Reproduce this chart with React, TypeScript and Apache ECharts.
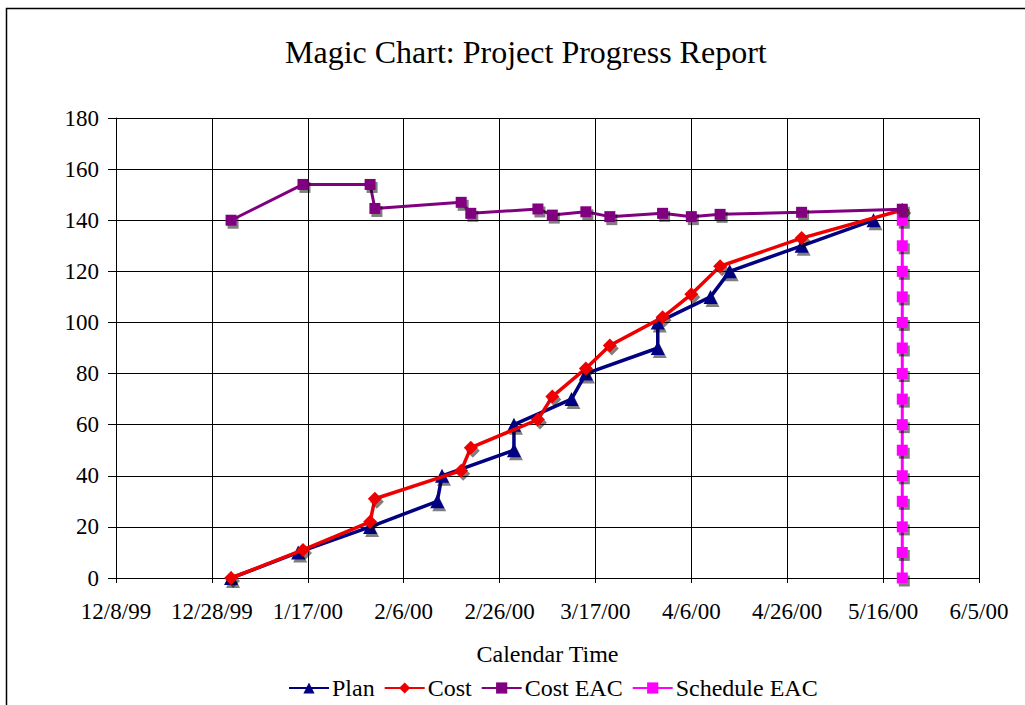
import React, { useEffect, useRef } from "react";
import * as echarts from "echarts";

const START = Date.UTC(1999, 11, 8);
const DAY = 86400000;

const planDates = ["2000-01-01", "2000-01-15", "2000-01-30", "2000-02-13", "2000-02-14", "2000-02-29", "2000-02-29", "2000-03-12", "2000-03-15", "2000-03-30", "2000-03-30", "2000-04-10", "2000-04-14", "2000-04-29", "2000-05-14"];
const planValues = [0, 10, 20, 30, 40, 50, 60, 70, 80, 90, 100, 110, 120, 130, 140];

const costDates = ["2000-01-01", "2000-01-16", "2000-01-30", "2000-01-31", "2000-02-18", "2000-02-20", "2000-03-05", "2000-03-08", "2000-03-15", "2000-03-20", "2000-03-31", "2000-04-06", "2000-04-12", "2000-04-29", "2000-05-20"];
const costValues = [0, 11, 22, 31, 42, 51, 62, 71, 82, 91, 102, 111, 122, 133, 144];
const costEacValues = [140, 154, 154, 144.6, 147, 142.7, 144.4, 142, 143.3, 141.4, 142.7, 141.4, 142.3, 143.1, 144.3];

const scheduleEacDate = "2000-05-20";
const scheduleEacValues = [0, 10, 20, 30, 40, 50, 60, 70, 80, 90, 100, 110, 120, 130, 140];

const xTickDays = [0, 20, 40, 60, 80, 100, 120, 140, 160, 180];

const FONT = "'Liberation Serif', 'Times New Roman', serif";

function dayOf(s: string): number {
  const [y, m, d] = s.split("-").map(Number);
  return Math.round((Date.UTC(y, m - 1, d) - START) / DAY);
}

function fmtDay(v: number): string {
  const dt = new Date(START + v * DAY);
  const yy = String(dt.getUTCFullYear() % 100).padStart(2, "0");
  return `${dt.getUTCMonth() + 1}/${dt.getUTCDate()}/${yy}`;
}

export default function App() {
  const ref = useRef<HTMLDivElement>(null);
  useEffect(() => {
    if (!ref.current) return;
    const chart = echarts.init(ref.current, undefined, { renderer: "svg" });
    const shadow = { shadowColor: "rgba(0,0,0,0.5)", shadowOffsetX: 2, shadowOffsetY: 3, shadowBlur: 0 };
    chart.setOption({
      animation: false,
      backgroundColor: "#fff",
      title: {
        text: "Magic Chart: Project Progress Report",
        left: 280,
        top: 31,
        textStyle: { fontFamily: FONT, fontSize: 32, fontWeight: "normal", color: "#000" },
      },
      graphic: [
        {
          type: "rect",
          shape: { x: 6.5, y: 8.5, width: 1040, height: 720 },
          style: { fill: "none", stroke: "#000", lineWidth: 1.5 },
          silent: true,
        },
      ],
      grid: { left: 116, right: 46, top: 118, bottom: 127, containLabel: false },
      xAxis: {
        type: "value",
        min: 0,
        max: 180,
        interval: 20,
        name: "Calendar Time",
        nameLocation: "middle",
        nameGap: 64,
        nameTextStyle: { fontFamily: FONT, fontSize: 24, color: "#000" },
        axisLine: { show: true, lineStyle: { color: "#000", width: 1 } },
        axisTick: { show: true, length: 5, lineStyle: { color: "#000" } },
        axisLabel: {
          fontFamily: FONT,
          fontSize: 23,
          color: "#000",
          margin: 22,
          formatter: (v: number) => (xTickDays.includes(v) ? fmtDay(v) : ""),
        },
        splitLine: { show: true, lineStyle: { color: "#000", width: 1 } },
      },
      yAxis: {
        type: "value",
        min: 0,
        max: 180,
        interval: 20,
        axisLine: { show: true, lineStyle: { color: "#000", width: 1 } },
        axisTick: { show: true, length: 8, lineStyle: { color: "#000" } },
        axisLabel: { fontFamily: FONT, fontSize: 23, color: "#000", margin: 17 },
        splitLine: { show: true, lineStyle: { color: "#000", width: 1 } },
      },
      legend: {
        bottom: 0,
        left: 283,
        itemWidth: 40,
        itemHeight: 14,
        itemGap: 9,
        textStyle: { fontFamily: FONT, fontSize: 24, color: "#000", padding: [0, 0, 0, -2] },
        data: ["Plan", "Cost", "Cost EAC", "Schedule EAC"],
      },
      series: [
        {
          name: "Plan",
          type: "line",
          data: planDates.map((d, i) => [dayOf(d), planValues[i]]),
          symbol: "triangle",
          symbolSize: 14,
          lineStyle: { color: "#000080", width: 3.5 },
          itemStyle: { color: "#000080", ...shadow },
          z: 3,
        },
        {
          name: "Cost",
          type: "line",
          data: costDates.map((d, i) => [dayOf(d), costValues[i]]),
          symbol: "diamond",
          symbolSize: 14,
          lineStyle: { color: "#ee0000", width: 3.5 },
          itemStyle: { color: "#ee0000", ...shadow },
          z: 4,
        },
        {
          name: "Cost EAC",
          type: "line",
          data: costDates.map((d, i) => [dayOf(d), costEacValues[i]]),
          symbol: "rect",
          symbolSize: 11,
          lineStyle: { color: "#800080", width: 3 },
          itemStyle: { color: "#800080", ...shadow },
          z: 5,
        },
        {
          name: "Schedule EAC",
          type: "line",
          data: scheduleEacValues.map((v) => [dayOf(scheduleEacDate), v]),
          symbol: "rect",
          symbolSize: 11,
          lineStyle: { color: "#ff00ff", width: 3 },
          itemStyle: { color: "#ff00ff", ...shadow },
          z: 4,
        },
      ],
    });
    return () => chart.dispose();
  }, []);
  return <div ref={ref} style={{ width: 1025, height: 705, position: "absolute", left: 0, top: 0 }} />;
}
